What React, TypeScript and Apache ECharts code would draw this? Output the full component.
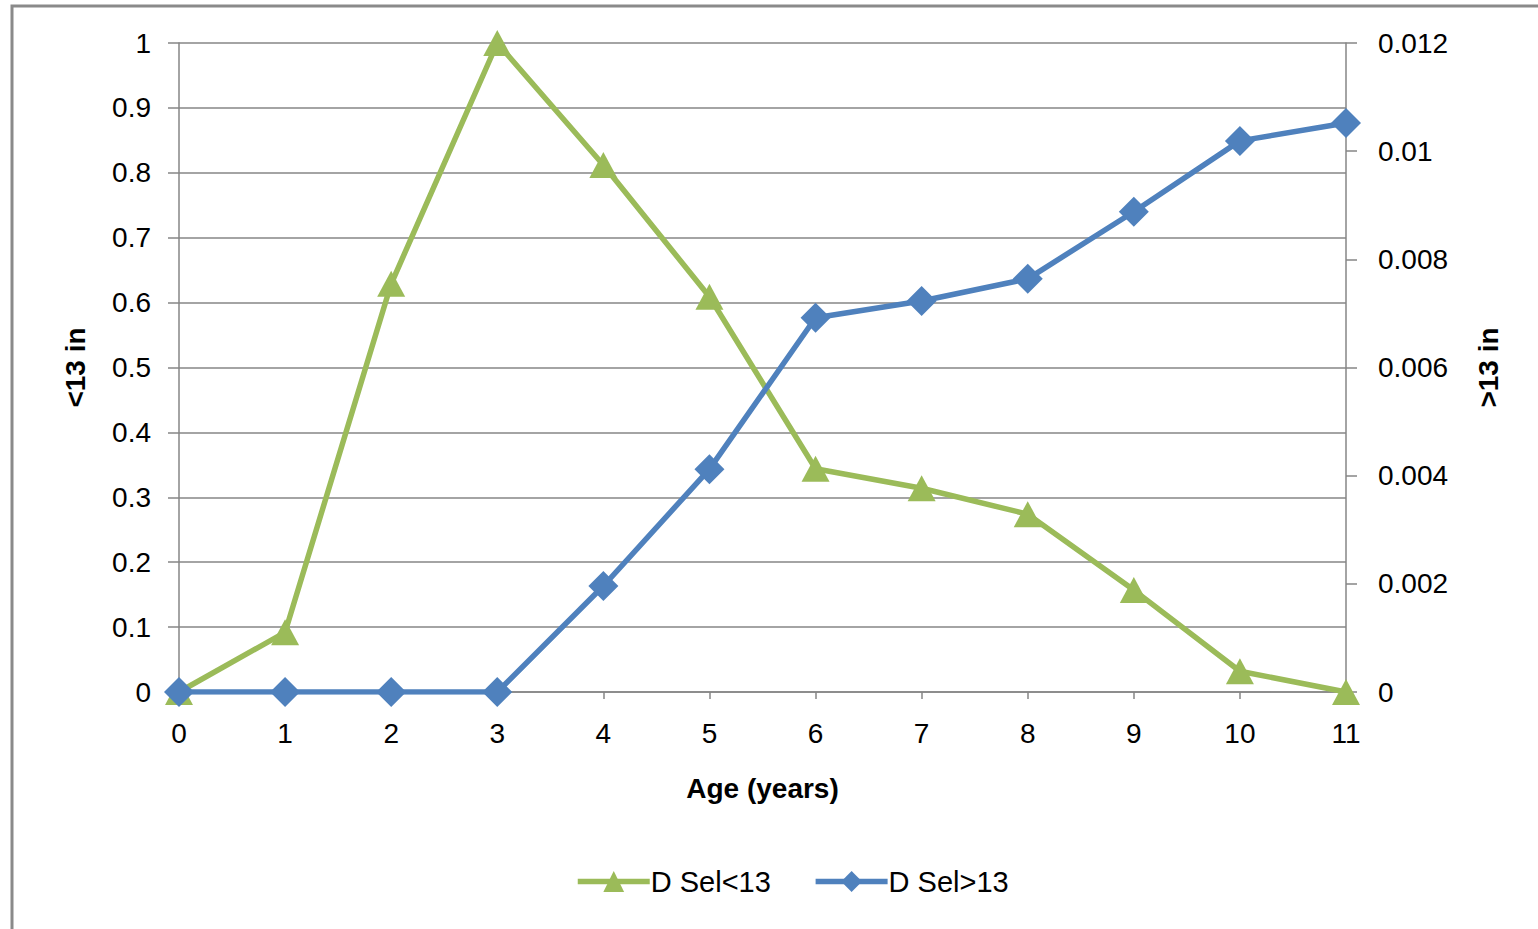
import React, { useEffect, useRef } from "react";
import * as echarts from "echarts";

const ages = ["0", "1", "2", "3", "4", "5", "6", "7", "8", "9", "10", "11"];
const selUnder13 = [0, 0.092, 0.629, 1.0, 0.812, 0.609, 0.344, 0.314, 0.274, 0.157, 0.032, 0.0];
const selOver13 = [0, 0, 0, 0, 0.00196, 0.00412, 0.00692, 0.00723, 0.00764, 0.00888, 0.01019, 0.01052];
const leftTicks = { min: 0, max: 1, interval: 0.1 };
const rightTicks = { min: 0, max: 0.012, interval: 0.002 };

const FONT = "Liberation Sans";
const GRID = "#868686";

export default function App() {
  const ref = useRef<HTMLDivElement>(null);
  useEffect(() => {
    document.body.style.margin = "0";
    const chart = echarts.init(ref.current!, null, { renderer: "svg" });
    const labelStyle = { color: "#000", fontFamily: FONT, fontSize: 28 };
    const nameStyle = { color: "#000", fontFamily: FONT, fontSize: 28, fontWeight: "bold" as const };
    chart.setOption({
      animation: false,
      backgroundColor: "#fff",
      textStyle: { fontFamily: FONT },
      graphic: [
        {
          type: "rect",
          shape: { x: 12, y: 6, width: 1700, height: 1100 },
          style: { fill: "none", stroke: "#8a8a8a", lineWidth: 3 },
          silent: true,
        },
      ],
      grid: { left: 179, right: 192, top: 43, bottom: 237 },
      legend: {
        top: 862,
        left: 570,
        itemWidth: 72,
        itemHeight: 26,
        itemGap: 42,
        textStyle: { ...labelStyle, fontSize: 29, padding: [0, 0, 0, -4] },
        data: [
          { name: "D Sel<13", itemStyle: { color: "#9BBB59" }, lineStyle: { width: 5.5, color: "#9BBB59" } },
          { name: "D Sel>13", itemStyle: { color: "#4F81BD" }, lineStyle: { width: 5.5, color: "#4F81BD" } },
        ],
      },
      xAxis: {
        type: "category",
        data: ages,
        boundaryGap: false,
        name: "Age (years)",
        nameLocation: "middle",
        nameGap: 82,
        nameTextStyle: nameStyle,
        axisLine: { lineStyle: { color: GRID, width: 1.5 } },
        axisTick: { show: true, length: 7, lineStyle: { color: GRID, width: 1.5 } },
        axisLabel: { ...labelStyle, margin: 27 },
        splitLine: { show: false },
      },
      yAxis: [
        {
          type: "value",
          ...leftTicks,
          position: "left",
          name: "<13 in",
          nameLocation: "middle",
          nameGap: 90,
          nameTextStyle: nameStyle,
          axisLine: { show: true, lineStyle: { color: GRID, width: 1.5 } },
          axisTick: { show: true, length: 11, lineStyle: { color: GRID, width: 1.5 } },
          axisLabel: { ...labelStyle, margin: 28 },
          splitLine: { show: true, lineStyle: { color: GRID, width: 1.5 } },
        },
        {
          type: "value",
          ...rightTicks,
          position: "right",
          name: ">13 in",
          nameLocation: "middle",
          nameGap: 128,
          nameRotate: 90,
          nameTextStyle: nameStyle,
          axisLine: { show: true, lineStyle: { color: GRID, width: 1.5 } },
          axisTick: { show: true, length: 11, lineStyle: { color: GRID, width: 1.5 } },
          axisLabel: { ...labelStyle, margin: 32 },
          splitLine: { show: false },
        },
      ],
      series: [
        {
          name: "D Sel<13",
          type: "line",
          yAxisIndex: 0,
          data: selUnder13,
          color: "#9BBB59",
          lineStyle: { width: 5.5, color: "#9BBB59" },
          symbol: "triangle",
          symbolSize: [28, 26],
          itemStyle: { color: "#9BBB59" },
        },
        {
          name: "D Sel>13",
          type: "line",
          yAxisIndex: 1,
          data: selOver13,
          color: "#4F81BD",
          lineStyle: { width: 5.5, color: "#4F81BD" },
          symbol: "diamond",
          symbolSize: 30,
          itemStyle: { color: "#4F81BD" },
        },
      ],
    });
    return () => chart.dispose();
  }, []);
  return <div ref={ref} style={{ width: 1538, height: 929 }} />;
}
